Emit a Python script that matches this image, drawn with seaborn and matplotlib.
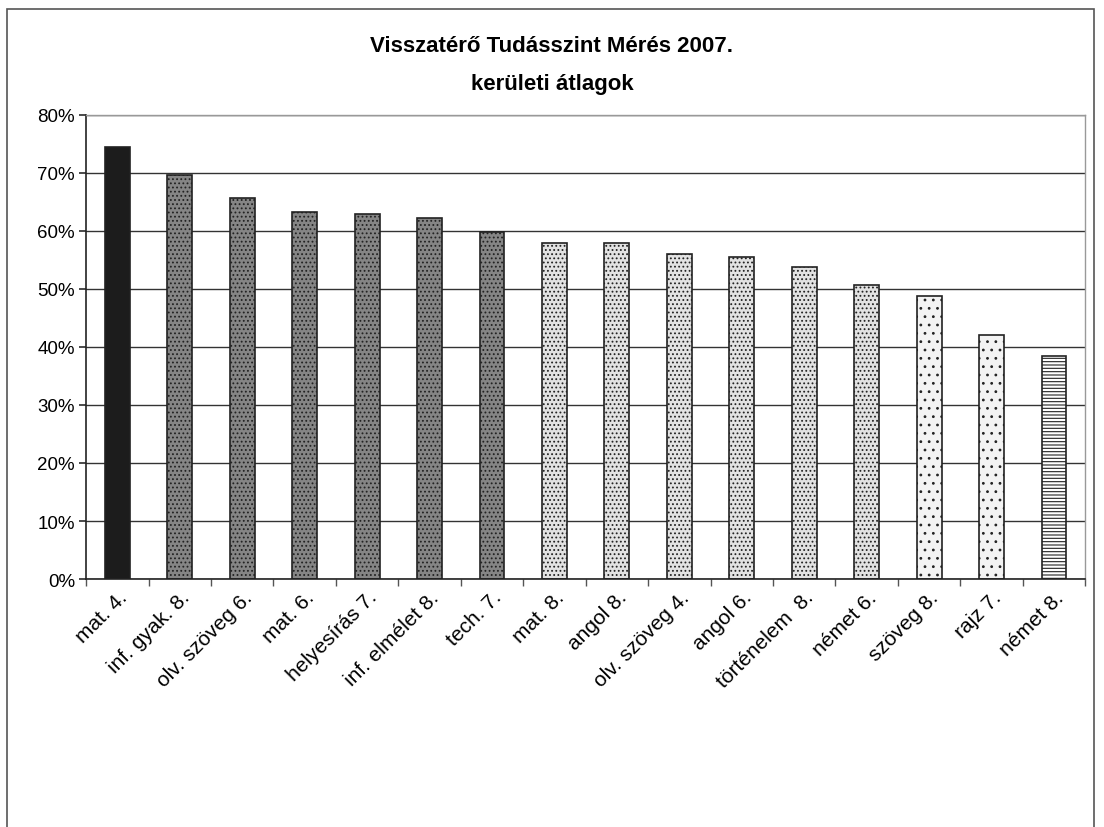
import matplotlib
matplotlib.use("Agg")
import matplotlib.pyplot as plt
import seaborn as sns
import pandas as pd
from matplotlib.patches import Rectangle
from matplotlib.ticker import PercentFormatter, FixedLocator

categories = ["mat. 4.", "inf. gyak. 8.", "olv. szöveg 6.", "mat. 6.", "helyesírás 7.",
              "inf. elmélet 8.", "tech. 7.", "mat. 8.", "angol 8.", "olv. szöveg 4.",
              "angol 6.", "történelem  8.", "német 6.", "szöveg 8.", "rajz 7.", "német 8."]
values = [74.5, 69.7, 65.7, 63.3, 62.9, 62.2, 59.8, 57.9, 57.9, 56.0,
          55.5, 53.7, 50.6, 48.7, 42.0, 38.4]
groups = ["g1", "g2", "g2", "g2", "g2", "g2", "g2", "g3", "g3", "g3",
          "g3", "g3", "g3", "g4", "g4", "g5"]

fills = {"g1": "#1c1c1c", "g2": "#858585", "g3": "#e2e2e2", "g4": "#f3f3f3", "g5": "#ffffff"}
hatches = {"g1": "", "g2": "....", "g3": "....", "g4": "..", "g5": "-----"}

df = pd.DataFrame({"cat": categories, "val": values, "grp": groups})

sns.set_theme(style="white")
plt.rcParams["font.family"] = ["Liberation Sans", "DejaVu Sans"]
plt.rcParams["text.color"] = "black"
plt.rcParams["xtick.color"] = "black"
plt.rcParams["ytick.color"] = "black"
plt.rcParams["hatch.color"] = "#3a3a3a"
plt.rcParams["hatch.linewidth"] = 0.8

fig = plt.figure(figsize=(11.04, 8.28), dpi=100)
ax = fig.add_axes([0.078, 0.2995, 0.905, 0.5605])

sns.barplot(data=df, x="cat", y="val", hue="grp", palette=fills, dodge=False,
            width=0.4, edgecolor="#222222", linewidth=1.2, legend=False, ax=ax)

for p in ax.patches:
    cx = p.get_x() + p.get_width() / 2
    idx = int(round(cx))
    if 0 <= idx < len(groups):
        p.set_hatch(hatches[groups[idx]])

ax.set_ylim(0, 80)
ax.set_xlim(-0.5, len(categories) - 0.5)
ax.yaxis.set_major_locator(FixedLocator(range(0, 81, 10)))
ax.yaxis.set_major_formatter(PercentFormatter(decimals=0))
ax.set_xlabel("")
ax.set_ylabel("")
ax.grid(axis="y", color="#333333", linewidth=1.0)
ax.set_axisbelow(True)

ax.set_xticks(range(len(categories)))
ax.set_xticklabels(categories, rotation=45, ha="right", rotation_mode="anchor",
                   fontsize=15)
ax.tick_params(axis="x", length=0, pad=6)
ax.set_xticks([i + 0.5 for i in range(-1, len(categories))], minor=True)
ax.tick_params(axis="x", which="minor", length=5, color="#555555", direction="out", bottom=True)
ax.tick_params(axis="y", labelsize=13.5, length=5, color="#333333", direction="out", left=True, pad=3)

for side in ["left", "bottom"]:
    ax.spines[side].set_color("#222222")
    ax.spines[side].set_linewidth(1.2)
for side in ["top", "right"]:
    ax.spines[side].set_color("#999999")
    ax.spines[side].set_linewidth(1.0)

fig.text(0.5, 0.944, "Visszatérő Tudásszint Mérés 2007.", ha="center", va="center",
         fontsize=16, fontweight="bold", color="black")
fig.text(0.5, 0.898, "kerületi átlagok", ha="center", va="center",
         fontsize=16, fontweight="bold", color="black")

fig.patches.append(Rectangle((0.006, -0.01), 0.985, 0.998, transform=fig.transFigure,
                             fill=False, edgecolor="#555555", linewidth=1.2))

fig.savefig("out.png", dpi=100)
